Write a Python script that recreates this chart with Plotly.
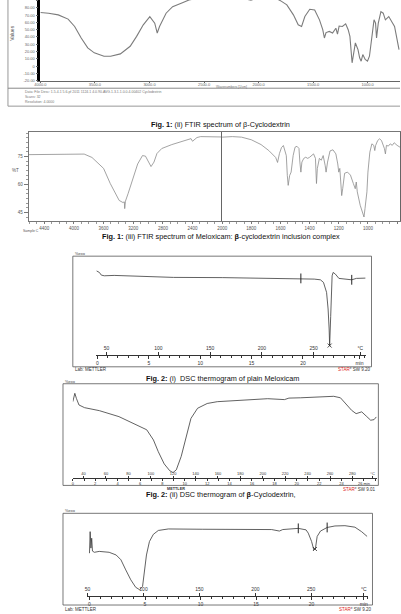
import plotly.graph_objects as go

W, H = 401, 614
def px(x): return x / W
def py(y): return 1 - y / H

# ---------------- Data ----------------
# Fig 1 (ii): FTIR of beta-cyclodextrin (wavenumber cm-1, value)
ftir_cd_wn = [4000, 3925, 3836, 3746, 3686, 3626, 3566, 3506, 3417, 3356, 3267, 3177, 3118, 3057, 2997,
              2952, 2929, 2908, 2848, 2788, 2698, 2638, 2500, 2300, 2150, 2070, 1980, 1880, 1800, 1741,
              1681, 1637, 1606, 1576, 1531, 1486, 1442, 1412, 1397, 1382, 1352, 1322, 1292, 1277, 1262,
              1232, 1202, 1179, 1163, 1148, 1143, 1128, 1113, 1089, 1074, 1060, 1045, 1023, 1002, 984,
              963, 942, 928, 919, 903, 879, 858, 838, 807, 778, 754, 742, 725, 713]
ftir_cd_val = [73.5, 72.6, 70.3, 64.5, 54.4, 38.6, 25.0, 18.2, 13.6, 13.6, 16.8, 27.2, 40.8, 56.7, 68.0,
               59.0, 45.4, 54.4, 72.6, 81.6, 87.0, 90.7, 95.0, 97.0, 93.0, 90.5, 95.0, 96.0, 89.8, 84.0,
               70.3, 56.7, 54.4, 68.0, 78.0, 77.0, 63.5, 50.0, 38.6, 46.0, 47.6, 45.4, 52.0, 44.0, 55.0,
               54.4, 58.0, 50.0, 40.8, 11.4, 4.6, 18.2, 31.8, 22.7, 11.4, 6.8, 15.9, 9.1, 6.8, 13.6,
               36.3, 63.5, 59.0, 38.6, 59.0, 74.8, 72.6, 63.5, 68.0, 61.2, 54.4, 45.4, 30.0, 22.7]
ftir_cd_xticks = [4000, 3500, 3000, 2500, 2000, 1500, 1000]
ftir_cd_yticks = [-20, -10, 0, 10, 20, 30, 40, 50, 60, 70, 80, 90]

# Fig 1 (iii): FTIR of Meloxicam : beta-CD complex (wavenumber cm-1, %T)
ftir_cx_wn = [4620, 4400, 3862, 3757, 3600, 3510, 3440, 3390, 3340, 3320, 3315, 3305, 3270, 3200, 3140,
              3075, 3035, 2960, 2920, 2880, 2815, 2680, 2550, 2420, 2400, 2340, 2290, 2000, 1930, 1867,
              1800, 1733, 1680, 1633, 1620, 1607, 1593, 1580, 1560, 1553, 1547, 1537, 1527, 1513, 1500,
              1487, 1473, 1467, 1460, 1453, 1440, 1427, 1413, 1400, 1373, 1360, 1353, 1347, 1333, 1320,
              1307, 1293, 1287, 1277, 1260, 1240, 1220, 1207, 1200, 1193, 1187, 1180, 1173, 1160, 1140,
              1120, 1100, 1087, 1080, 1073, 1053, 1033, 1027, 1020, 1007, 1000, 987, 973, 960, 953,
              947, 933, 920, 907, 893, 887, 880, 873, 860, 847, 833, 820, 800, 780]
ftir_cx_T = [76.0, 76.1, 76.3, 74.5, 68.6, 60.5, 55.0, 51.4, 50.3, 50.6, 47.0, 51.0, 55.0, 63.0, 71.0,
             75.5, 75.2, 69.6, 72.0, 76.6, 79.3, 81.4, 83.0, 84.6, 83.2, 85.2, 85.7, 85.4, 85.7, 85.4,
             84.0, 81.4, 78.2, 74.5, 71.8, 76.6, 79.8, 80.9, 75.5, 64.8, 59.5, 64.8, 66.6, 75.5, 80.0,
             80.5, 79.3, 72.0, 66.6, 72.0, 74.0, 74.6, 74.0, 74.6, 76.4, 74.0, 60.5, 68.6, 74.0, 73.0,
             75.5, 70.0, 66.6, 72.0, 78.0, 78.6, 76.4, 71.0, 66.6, 68.6, 60.5, 54.0, 57.8, 66.0, 66.6,
             65.0, 60.5, 57.7, 61.3, 56.0, 48.8, 44.3, 42.5, 47.1, 56.0, 66.6, 77.3, 81.8, 81.0, 78.2,
             81.0, 83.6, 84.5, 83.6, 81.0, 79.3, 76.4, 81.0, 80.6, 81.8, 81.0, 82.4, 81.0, 80.0]
ftir_cx_xticks_hi = [4400, 4000, 3600, 3200, 2800, 2400]
ftir_cx_xticks_lo = [2000, 1800, 1600, 1400, 1200, 1000, 800]

# Fig 2 (i): DSC of plain Meloxicam (time min, heat flow)
dsc_mx_t = [-0.1, 0.19, 0.38, 0.67, 1.63, 3.06, 3.2, 7.3, 7.4, 12.2, 16.9, 19.8, 21.1, 21.7, 22.0,
            22.3, 22.45, 22.55, 22.6, 22.7, 22.78, 22.84, 22.94, 23.16, 23.5, 23.96, 24.75, 25.2, 26.1]
dsc_mx_hf = [1.16, 0.73, 0.0, -0.18, -0.08, -0.18, -0.35, -0.45, -0.62, -0.68, -0.81, -0.89, -1.08, -1.27, -1.97,
             -4.68, -9.19, -14.6, -19.1, -11.26, -3.78, -0.18, 0.73, 0.27, -0.89, -1.08, -1.27, -0.89, -0.81]
dsc_mx_lim_t = [19.8, 24.75]
dsc_mx_lim_hf = [-0.89, -1.27]
dsc_mx_peak_t = [22.6]
dsc_mx_peak_hf = [-19.1]
dsc_mx_temp_ticks = [50, 100, 150, 200, 250]
dsc_mx_time_ticks = [0, 5, 10, 15, 20]

# Fig 2 (ii): DSC of beta-cyclodextrin
dsc_cd_t = [0, 0.09, 0.18, 0.32, 0.55, 1.05, 2.37, 4.12, 5.6, 6.6, 7.2, 7.63, 8.16, 8.66, 8.95, 9.24,
            9.68, 10.1, 10.55, 11.14, 12.0, 12.9, 14.5, 17.4, 18.9, 19.3, 20.35, 21.8, 23.3, 23.9, 24.4,
            24.9, 25.3, 25.8, 26.2, 26.6, 26.9, 27.1]
dsc_cd_hf = [-1.0, 1.2, 1.8, 0.1, -2.1, -3.0, -4.0, -6.0, -8.6, -10.4, -13.8, -17.7, -21.8, -24.1, -24.7, -23.8,
             -19.3, -12.7, -6.6, -3.2, -1.6, -1.0, -0.6, 0.0, -0.3, 0.2, 0.3, 0.6, 0.8, 0.3, -1.7,
             -3.9, -5.0, -4.4, -5.8, -7.2, -7.0, -6.1]
dsc_cd_temp_ticks = [40, 60, 80, 100, 120, 140, 160, 180, 200, 220, 240, 260, 280]
dsc_cd_time_ticks = [0, 2, 4, 6, 8, 10, 12, 14, 16, 18, 20, 22, 24, 26]

# Fig 2 (iii): DSC of inclusion complex
dsc_cx_t = [0, 0.06, 0.13, 0.2, 0.27, 0.44, 0.88, 1.77, 2.4, 2.83, 3.27, 3.72, 4.16, 4.51, 4.78, 4.96,
            5.13, 5.4, 5.75, 6.2, 7.1, 10.2, 13.7, 16.4, 17.1, 17.4, 18.8, 19.5, 19.7, 20.0, 20.2, 20.35,
            20.5, 20.8, 21.4, 22.1, 23.0, 23.9, 24.5, 25.0]
dsc_cx_hf = [-8.0, -0.8, -6.3, -3.0, -7.3, -7.7, -7.4, -7.7, -8.6, -10.2, -13.6, -16.9, -19.4, -20.2, -19.1, -14.1,
             -8.6, -4.1, -1.7, -0.4, 0.1, 0.0, 0.0, -0.1, -0.6, -0.1, 0.3, -0.2, -1.3, -4.1, -6.9, -6.3,
             -2.4, -0.6, 0.6, 1.1, 1.2, 0.7, -0.8, -2.4]
dsc_cx_lim_t = [18.8, 21.4]
dsc_cx_lim_hf = [0.3, 0.6]
dsc_cx_peak_t = [20.3]
dsc_cx_peak_hf = [-6.6]
dsc_cx_temp_ticks = [50, 100, 150, 200, 250]
dsc_cx_time_ticks = [0, 5, 10, 15, 20]

FONT = "Liberation Sans, Arial, sans-serif"

fig = go.Figure()

def line_trace(x, y, xa, ya, color, width):
    return go.Scatter(x=x, y=y, mode="lines", line=dict(color=color, width=width),
                      xaxis=xa, yaxis=ya, showlegend=False, hoverinfo="skip")

def empty(xa, ya):
    return go.Scatter(x=[None], y=[None], mode="lines", xaxis=xa, yaxis=ya,
                      showlegend=False, hoverinfo="skip")

fig.add_trace(line_trace(ftir_cd_wn, ftir_cd_val, "x", "y", "#7c7c7c", 1.1))
fig.add_trace(line_trace(ftir_cx_wn, ftir_cx_T, "x2", "y2", "#8c8c8c", 0.8))
fig.add_trace(line_trace(ftir_cx_wn, ftir_cx_T, "x3", "y3", "#8c8c8c", 0.8))
fig.add_trace(line_trace(dsc_mx_t, dsc_mx_hf, "x4", "y4", "#3a3a3a", 0.8))
fig.add_trace(empty("x5", "y4"))
fig.add_trace(line_trace(dsc_cd_t, dsc_cd_hf, "x6", "y6", "#3a3a3a", 0.8))
fig.add_trace(empty("x7", "y6"))
fig.add_trace(line_trace(dsc_cx_t, dsc_cx_hf, "x8", "y8", "#3a3a3a", 0.8))
fig.add_trace(empty("x9", "y8"))

# integration limits and peak markers
for (tx, hy, xa, ya) in [(dsc_mx_lim_t, dsc_mx_lim_hf, "x4", "y4"), (dsc_cx_lim_t, dsc_cx_lim_hf, "x8", "y8")]:
    fig.add_trace(go.Scatter(x=tx, y=hy, mode="markers", xaxis=xa, yaxis=ya, showlegend=False,
                             hoverinfo="skip",
                             marker=dict(symbol="line-ns-open", size=7, color="#222",
                                         line=dict(color="#222", width=1))))
for (tx, hy, xa, ya) in [(dsc_mx_peak_t, dsc_mx_peak_hf, "x4", "y4"), (dsc_cx_peak_t, dsc_cx_peak_hf, "x8", "y8")]:
    fig.add_trace(go.Scatter(x=tx, y=hy, mode="markers", xaxis=xa, yaxis=ya, showlegend=False,
                             hoverinfo="skip",
                             marker=dict(symbol="x-thin-open", size=4, color="#222",
                                         line=dict(color="#222", width=0.8))))

base = dict(showgrid=False, zeroline=False)

layout = dict(
    width=W, height=H, margin=dict(l=0, r=0, t=0, b=0), autosize=False,
    paper_bgcolor="white", plot_bgcolor="white", showlegend=False,
    font=dict(family=FONT, color="#222"),
    # Panel 1
    xaxis=dict(**base, domain=[px(35), 1], range=[4000, 704], anchor="y",
               showline=True, linecolor="#666", linewidth=1,
               tickvals=ftir_cd_xticks, ticktext=[f"{v:.1f}" for v in ftir_cd_xticks],
               ticks="outside", ticklen=1, tickcolor="#666", tickfont=dict(size=4, color="#666"),
               ticklabelstandoff=-2),
    yaxis=dict(**base, domain=[py(81), 1], range=[-20, 90.7], anchor="x",
               showline=True, linecolor="black", linewidth=2.5,
               tickvals=ftir_cd_yticks, ticktext=[f"{v:.2f}" if v != 0 else "0" for v in ftir_cd_yticks],
               ticks="outside", ticklen=2, tickcolor="#666", tickfont=dict(size=4, color="#666")),
    # Panel 2 (left, compressed 4600-2000)
    xaxis2=dict(**base, domain=[px(23), px(220)], range=[4612, 2000], anchor="y2",
                showline=True, mirror=True, linecolor="#777", linewidth=0.8,
                tickvals=ftir_cx_xticks_hi, ticktext=[str(v) for v in ftir_cx_xticks_hi],
                ticks="outside", ticklen=2, tickcolor="#777", tickfont=dict(size=4.5, color="#555"),
                minor=dict(dtick=100, ticklen=1.5, ticks="outside", tickcolor="#999")),
    yaxis2=dict(**base, domain=[py(222), py(132)], range=[40.2, 88.4], anchor="x2",
                showline=True, linecolor="#777", linewidth=0.8,
                tickmode="linear", tick0=45, dtick=15, ticks="outside", ticklen=4, tickcolor="#777",
                tickfont=dict(size=4.5, color="#555"),
                minor=dict(dtick=2.5, tick0=45, ticklen=2, ticks="outside", tickcolor="#999")),
    xaxis3=dict(**base, domain=[px(220), 1], range=[2000, 780], anchor="y3",
                showline=True, mirror=True, linecolor="#777", linewidth=0.8,
                tickvals=ftir_cx_xticks_lo, ticktext=[str(v) for v in ftir_cx_xticks_lo],
                ticks="outside", ticklen=2, tickcolor="#777", tickfont=dict(size=4.5, color="#555"),
                minor=dict(dtick=50, ticklen=1.5, ticks="outside", tickcolor="#999")),
    yaxis3=dict(**base, domain=[py(222), py(132)], range=[40.2, 88.4], anchor="x3",
                showline=True, mirror=True, linecolor="#666", linewidth=0.8,
                showticklabels=False, ticks=""),
    # Panel 3: DSC Meloxicam
    xaxis4=dict(**base, domain=[px(92), px(366)], range=[-0.1, 26.1], anchor="free", position=py(356),
                showline=True, linecolor="#333", linewidth=0.8,
                tickvals=dsc_mx_time_ticks + [25.5], ticktext=[str(v) for v in dsc_mx_time_ticks] + ["min"],
                ticks="outside", ticklen=3, tickcolor="#333", tickfont=dict(size=5, color="#333"),
                minor=dict(dtick=1, ticklen=2, ticks="outside", tickcolor="#333")),
    xaxis5=dict(**base, overlaying="x4", range=[40.2, 300.2], anchor="free", position=py(356), side="top",
                showline=False, tickvals=dsc_mx_temp_ticks + [295],
                ticktext=[str(v) for v in dsc_mx_temp_ticks] + ["°C"],
                ticks="outside", ticklen=3, tickcolor="#333", tickfont=dict(size=5, color="#333")),
    yaxis4=dict(**base, domain=[py(368), py(257)], range=[-24.86, 5.14], anchor="x4", visible=False),
    # Panel 4: DSC beta-CD
    xaxis6=dict(**base, domain=[px(68), px(378)], range=[0, 27.2], anchor="free", position=py(480),
                showline=True, linecolor="#333", linewidth=0.8,
                tickvals=dsc_cd_time_ticks,
                ticktext=[str(v) for v in dsc_cd_time_ticks[:-1]] + ["26 min"],
                ticks="outside", ticklen=2, tickcolor="#333", tickfont=dict(size=4, color="#333"),
                ticklabelstandoff=-1,
                minor=dict(dtick=1, ticklen=1.5, ticks="outside", tickcolor="#333")),
    xaxis7=dict(**base, overlaying="x6", range=[30.4, 302.3], anchor="free", position=py(480), side="top",
                showline=False, tickvals=dsc_cd_temp_ticks + [298],
                ticktext=[str(v) for v in dsc_cd_temp_ticks] + ["°C"],
                ticks="outside", ticklen=2, tickcolor="#333", tickfont=dict(size=4, color="#333")),
    yaxis6=dict(**base, domain=[py(487), py(385)], range=[-29, 5], anchor="x6", visible=False),
    # Panel 5: DSC complex
    xaxis8=dict(**base, domain=[px(82.7), px(368)], range=[-0.2, 25.04], anchor="free", position=py(598),
                showline=True, linecolor="#333", linewidth=0.8,
                tickvals=dsc_cx_time_ticks + [24.7], ticktext=[str(v) for v in dsc_cx_time_ticks] + ["min"],
                ticks="outside", ticklen=3, tickcolor="#333", tickfont=dict(size=5, color="#333"),
                minor=dict(dtick=1, ticklen=2, ticks="outside", tickcolor="#333")),
    xaxis9=dict(**base, overlaying="x8", range=[49.7, 300.4], anchor="free", position=py(598), side="top",
                showline=False, tickvals=dsc_cx_temp_ticks + [297],
                ticktext=[str(v) for v in dsc_cx_temp_ticks] + ["°C"],
                ticks="outside", ticklen=3, tickcolor="#333", tickfont=dict(size=5, color="#333")),
    yaxis8=dict(**base, domain=[py(607), py(515)], range=[-25.33, 5.33], anchor="x8", visible=False),
)
fig.update_layout(**layout)

# frames / boxes
shapes = [
    dict(type="line", xref="paper", yref="paper", x0=px(2), x1=px(2), y0=py(0), y1=py(106.5),
         line=dict(color="#999", width=1)),
    dict(type="line", xref="paper", yref="paper", x0=px(2), x1=1, y0=py(88.5), y1=py(88.5),
         line=dict(color="#888", width=1)),
    dict(type="line", xref="paper", yref="paper", x0=px(2), x1=1, y0=py(106.5), y1=py(106.5),
         line=dict(color="#999", width=1)),
    dict(type="rect", xref="paper", yref="paper", x0=px(68), x1=px(372), y0=py(368), y1=py(257),
         line=dict(color="#555", width=0.8)),
    dict(type="rect", xref="paper", yref="paper", x0=px(58), x1=px(379), y0=py(487), y1=py(385),
         line=dict(color="#555", width=0.8)),
    dict(type="rect", xref="paper", yref="paper", x0=px(58), x1=px(373), y0=py(607), y1=py(515),
         line=dict(color="#555", width=0.8)),
]
fig.update_layout(shapes=shapes)

def ann(x, y, text, size=5, color="#444", xanchor="center", angle=0):
    return dict(x=px(x), y=py(y), xref="paper", yref="paper", text=text, showarrow=False,
                xanchor=xanchor, yanchor="middle", textangle=angle,
                font=dict(size=size, color=color, family=FONT))

anns = [
    # panel 1
    ann(6, 33, "Values", 5, "#555", angle=-90),
    ann(230, 87.3, "Wavenumbers [1/cm]", 3.3, "#777"),
    ann(17, 92.5, "Data: File Desc: 1.5.4.1 5.6.pf 2011 1124.1 4.0.90.AVG.1.3.1.1.0.0.4.00402 Cyclodextrin",
        3.5, "#777", xanchor="left"),
    ann(17, 97.5, "Scans: 32", 3.5, "#777", xanchor="left"),
    ann(17, 102.5, "Resolution: 4.0000", 3.5, "#777", xanchor="left"),
    # captions
    ann(218, 125, "<b>Fig. 1:</b> (ii) FTIR spectrum of β-Cyclodextrin", 7.3, "#111"),
    ann(219, 237.5, "<b>Fig. 1:</b> (iii) FTIR spectrum of Meloxicam: <b>β</b>-cyclodextrin inclusion complex",
        7.3, "#111"),
    ann(220, 379.5, "<b>Fig. 2:</b> (i)  DSC thermogram of plain Meloxicam", 7.3, "#111"),
    ann(219, 495.8, "<b>Fig. 2:</b> (ii) DSC thermogram of <b>β</b>-Cyclodextrin,", 7.3, "#111"),
    # panel 2
    ann(10, 171, "%T", 4.5, "#555"),
    ann(25, 231.5, "Sample C", 3.5, "#555"),
    # panel 3
    ann(68, 254, "%exo", 4, "#444", xanchor="left"),
    ann(68, 370.5, "Lab: METTLER", 4.5, "#333", xanchor="left"),
    ann(372, 370.5, "<span style='color:#d22'>STAR</span><sup>e</sup> SW 9.20", 4.5, "#333", xanchor="right"),
    # panel 4
    ann(58, 383, "%exo", 4, "#444", xanchor="left"),
    ann(173, 490.6, "<b>METTLER</b>", 3.8, "#333"),
    ann(378, 490.3, "<span style='color:#d22'>STAR</span><sup>e</sup> SW 9.01", 4.5, "#333", xanchor="right"),
    # panel 5
    ann(58, 512, "%exo", 4, "#444", xanchor="left"),
    ann(58, 611, "Lab: METTLER", 4.5, "#333", xanchor="left"),
    ann(374, 611, "<span style='color:#d22'>STAR</span><sup>e</sup> SW 9.20", 4.5, "#333", xanchor="right"),
]
fig.update_layout(annotations=anns)

fig.write_html("out.html")
